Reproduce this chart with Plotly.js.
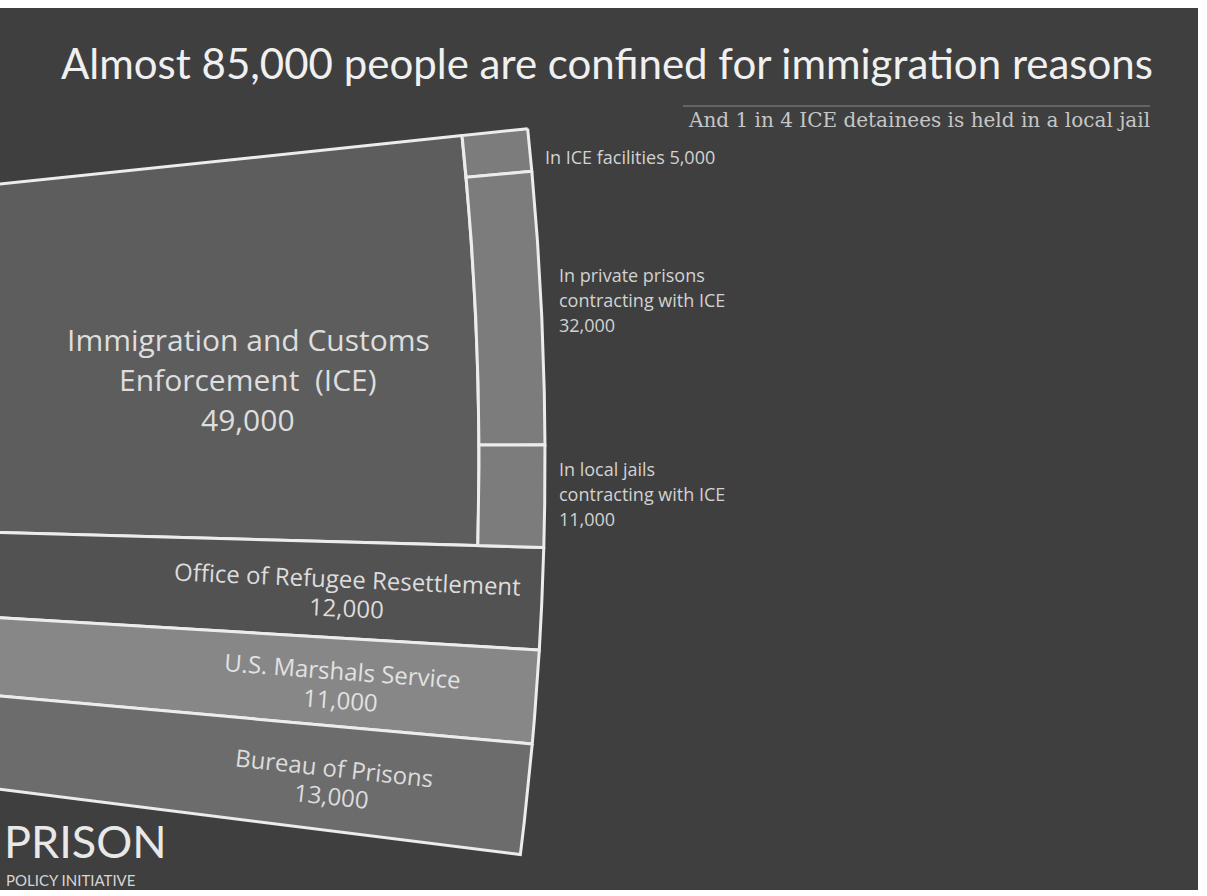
<!DOCTYPE html>
<html><head><meta charset="utf-8">
<script src="https://cdn.plot.ly/plotly-3.0.1.min.js"></script>
<style>html,body{margin:0;padding:0;background:#ffffff;overflow:hidden}</style>
</head><body>
<div id="chart" style="width:1207px;height:896px"></div>
<script>
// ---- data ----
const agencies = ["Immigration and Customs<br>Enforcement  (ICE)", "Office of Refugee Resettlement", "U.S. Marshals Service", "Bureau of Prisons"];
const agencyValues = [49000, 12000, 11000, 13000];
const iceTypes = ["In ICE facilities", "In private prisons<br>contracting with ICE", "In local jails<br>contracting with ICE"];
const iceValues = [5000, 32000, 11000];

const titleText = "Almost 85,000 people are confined for immigration reasons";
const subtitleText = "And 1 in 4 ICE detainees is held in a local jail";

// ---- geometry / style ----
const CX = -2625, CY = 460;
const R_OUT = 3170, R_ICE = 3104, R_IN = 2300;
const A0 = -6.0, SPAN = 13.15;
const agencyColors = ["#5d5d5d", "#525252", "#878787", "#6c6c6c"];
const childColor = "#7c7c7c";
const edge = {color: "#ececec", width: 3};
const fmt = v => v.toLocaleString("en-US");
const total = agencyValues.reduce((a, b) => a + b, 0);
const ang = v => A0 + v / total * SPAN;
const rad = d => d * Math.PI / 180;

function wedge(a1, a2, r1, r2) {
  const xs = [], ys = [], n = 80;
  for (let i = 0; i <= n; i++) { const a = rad(a1 + (a2 - a1) * i / n); xs.push(CX + r2 * Math.cos(a)); ys.push(CY + r2 * Math.sin(a)); }
  for (let i = n; i >= 0; i--) { const a = rad(a1 + (a2 - a1) * i / n); xs.push(CX + r1 * Math.cos(a)); ys.push(CY + r1 * Math.sin(a)); }
  xs.push(xs[0]); ys.push(ys[0]);
  return {xs, ys};
}

const traces = [];
const annotations = [];
let cum = 0;
const spans = [];
agencyValues.forEach((v, i) => {
  const a1 = ang(cum), a2 = ang(cum + v);
  spans.push([a1, a2]);
  const w = wedge(a1, a2, R_IN, i === 0 ? R_ICE : R_OUT);
  traces.push({type: "scatter", mode: "lines", x: w.xs, y: w.ys, fill: "toself",
    fillcolor: agencyColors[i], line: edge, name: agencies[i].replace("<br>", " "), hoverinfo: "name"});
  cum += v;
});

// ICE children in the outer ring
let ccum = 0;
iceValues.forEach((v, i) => {
  const a1 = spans[0][0] + ccum / total * SPAN;
  const a2 = (i === iceValues.length - 1) ? spans[0][1] : spans[0][0] + (ccum + v) / total * SPAN;
  const w = wedge(a1, a2, R_ICE, R_OUT);
  traces.push({type: "scatter", mode: "lines", x: w.xs, y: w.ys, fill: "toself",
    fillcolor: childColor, line: edge, name: iceTypes[i].replace("<br>", " "), hoverinfo: "name"});
  ccum += v;
});

function addLines(lines, xc, yc, angle, spacing, font, anchor) {
  const n = lines.length;
  lines.forEach((t, k) => {
    const off = (k - (n - 1) / 2) * spacing;
    annotations.push({xref: "x", yref: "y", x: xc - Math.sin(rad(angle)) * off, y: yc + Math.cos(rad(angle)) * off,
      text: t, showarrow: false, textangle: angle, font: font, xanchor: anchor || "center", yanchor: "middle"});
  });
}

// ICE label (horizontal)
addLines(agencies[0].split("<br>").concat([fmt(agencyValues[0])]), 248, 379, 0, 40,
  {family: "Open Sans", size: 30, color: "#dedede"});
// other agencies, rotated along their slice
const labelR = 2975;
for (let i = 1; i < agencies.length; i++) {
  const mid = (spans[i][0] + spans[i][1]) / 2;
  const xc = CX + labelR * Math.cos(rad(mid)), yc = CY + labelR * Math.sin(rad(mid)) + 3;
  addLines([agencies[i], fmt(agencyValues[i])], xc, yc, mid, 29,
    {family: "Open Sans", size: 24, color: i === 2 ? "#e2e2e2" : "#dcdcdc"});
}
// ICE children labels
const childLabelPos = [[543, 157], [557, 300], [557, 494]];
iceTypes.forEach((t, i) => {
  const lines = t.split("<br>");
  if (i === 0) lines[0] = lines[0] + " " + fmt(iceValues[i]); else lines.push(fmt(iceValues[i]));
  addLines(lines, childLabelPos[i][0], childLabelPos[i][1], 0, 25,
    {family: "Open Sans", size: 18, color: "#d2d2d2"}, "left");
});

// subtitle
annotations.push({xref: "x", yref: "y", x: 1152, y: 120, text: subtitleText, showarrow: false,
  xanchor: "right", yanchor: "middle", font: {family: "DejaVu Serif", size: 20, color: "#c6c6c6"}});
// logo
annotations.push({xref: "paper", yref: "paper", x: 2 / 1198, y: (890 - 870) / 882, text: "PRISON", showarrow: false,
  xanchor: "left", yanchor: "bottom", font: {family: "Lato", size: 45, color: "#e8e8e8"}});
annotations.push({xref: "paper", yref: "paper", x: 4 / 1198, y: (890 - 880) / 882, text: "POLICY INITIATIVE", showarrow: false,
  xanchor: "left", yanchor: "middle", font: {family: "Lato", size: 15, color: "#d6d6d6"}});

const layout = {
  width: 1207, height: 896,
  margin: {l: 0, r: 9, t: 8, b: 6, pad: 0},
  paper_bgcolor: "#ffffff", plot_bgcolor: "#3f3f3f",
  showlegend: false,
  title: {text: titleText, x: 607 / 1207, xanchor: "center", y: 1 - 64 / 896, yanchor: "middle",
    font: {family: "Lato", size: 42, color: "#f0f0f0"}},
  xaxis: {range: [0, 1198], visible: false, fixedrange: true},
  yaxis: {range: [890, 8], visible: false, fixedrange: true},
  shapes: [{type: "line", xref: "x", yref: "y", x0: 683, x1: 1150, y0: 106, y1: 106,
    line: {color: "#8a8a8a", width: 1}}],
  annotations: annotations
};
Plotly.newPlot("chart", traces, layout, {displayModeBar: false, staticPlot: true});
</script>
</body></html>
